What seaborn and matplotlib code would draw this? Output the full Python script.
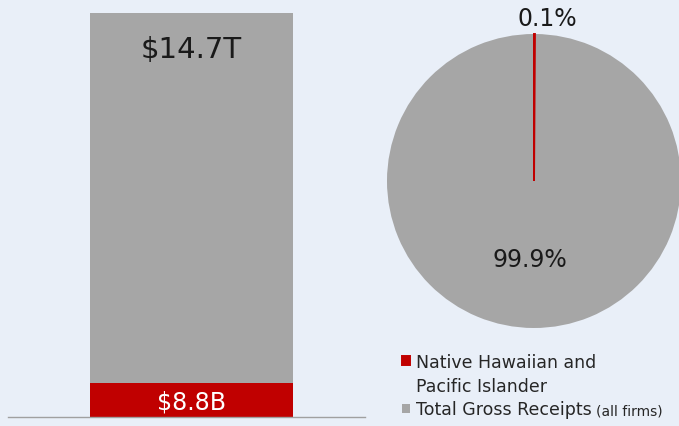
import matplotlib
matplotlib.use("Agg")
import matplotlib.pyplot as plt
import matplotlib.patches as mpatches
import seaborn as sns
import pandas as pd

# data
series = ["Native Hawaiian and\nPacific Islander", "Total Gross Receipts"]
value_labels = ["$8.8B", "$14.7T"]
bar_heights = [34, 369]      # drawn segment heights (chart is not to scale)
pie_shares = [0.1, 99.9]
pie_labels = ["0.1%", "99.9%"]

red = "#C00000"
gray = "#A6A6A6"
bg = "#E9EFF8"

sns.set_theme(style="white")
plt.rcParams["font.family"] = ["DejaVu Sans"]

fig = plt.figure(figsize=(6.79, 4.27), dpi=100, facecolor=bg)

# left: stacked bar
W, H = 679, 427
ax = fig.add_axes([8 / W, 9 / H, 357 / W, 404 / H])
ax.set_facecolor(bg)
df = pd.DataFrame({"group": ["All firms"], "total": [sum(bar_heights)], "nhpi": [bar_heights[0]]})
sns.barplot(data=df, x="group", y="total", color=gray, saturation=1, width=0.8, linewidth=0, ax=ax)
sns.barplot(data=df, x="group", y="nhpi", color=red, saturation=1, width=0.8, linewidth=0, ax=ax)
ax.set_xlim(-0.723, 0.684)
ax.set_ylim(0, sum(bar_heights))
for s in ["top", "left", "right"]:
    ax.spines[s].set_visible(False)
ax.spines["bottom"].set_color("#A0A0A0")
ax.spines["bottom"].set_linewidth(1)
ax.set_xticks([])
ax.set_yticks([])
ax.set_xlabel("")
ax.set_ylabel("")
ax.text(0, sum(bar_heights) - 36, value_labels[1], ha="center", va="center", fontsize=21, color="#1a1a1a")
ax.text(0, bar_heights[0] / 2 - 2, value_labels[0], ha="center", va="center", fontsize=17, color="white")

# right: pie
r = 147
cx, cy = 534, 182
axp = fig.add_axes([(cx - r) / W, (H - cy - r) / H, 2 * r / W, 2 * r / H])
axp.set_facecolor(bg)
wedges, _ = axp.pie(pie_shares, colors=[red, gray], startangle=90, counterclock=False, radius=1,
                    wedgeprops=dict(linewidth=0))
wedges[0].set_edgecolor(red)
wedges[0].set_linewidth(1.4)
wedges[0].set_zorder(5)
axp.set_xlim(-1, 1)
axp.set_ylim(-1, 1)
axp.axis("off")
axp.text(0.09, 1.11, pie_labels[0], ha="center", va="center", fontsize=17, color="#1a1a1a")
axp.text(-0.03, -0.53, pie_labels[1], ha="center", va="center", fontsize=17, color="#1a1a1a")

# legend: first label wraps, so its second line gets an empty handle
first, second = series[0].split("\n")
blank = mpatches.Patch(facecolor="none", edgecolor="none")
leg = fig.legend([wedges[0], blank, wedges[1]], [first, second, series[1]],
                 loc="upper left", bbox_to_anchor=(402 / W, 1 - 354 / H),
                 frameon=False, fontsize=12.5, handlelength=0.45, handleheight=0.45,
                 handletextpad=0.35, labelspacing=0.33, borderpad=0, borderaxespad=0)
fig.canvas.draw()
t = leg.get_texts()[2]
bb = t.get_window_extent()
fig.text((bb.x1 + 4) / W, (bb.y0 + 1) / H, "(all firms)", fontsize=10, ha="left", va="bottom")

fig.savefig("out.png", dpi=100, facecolor=bg)
